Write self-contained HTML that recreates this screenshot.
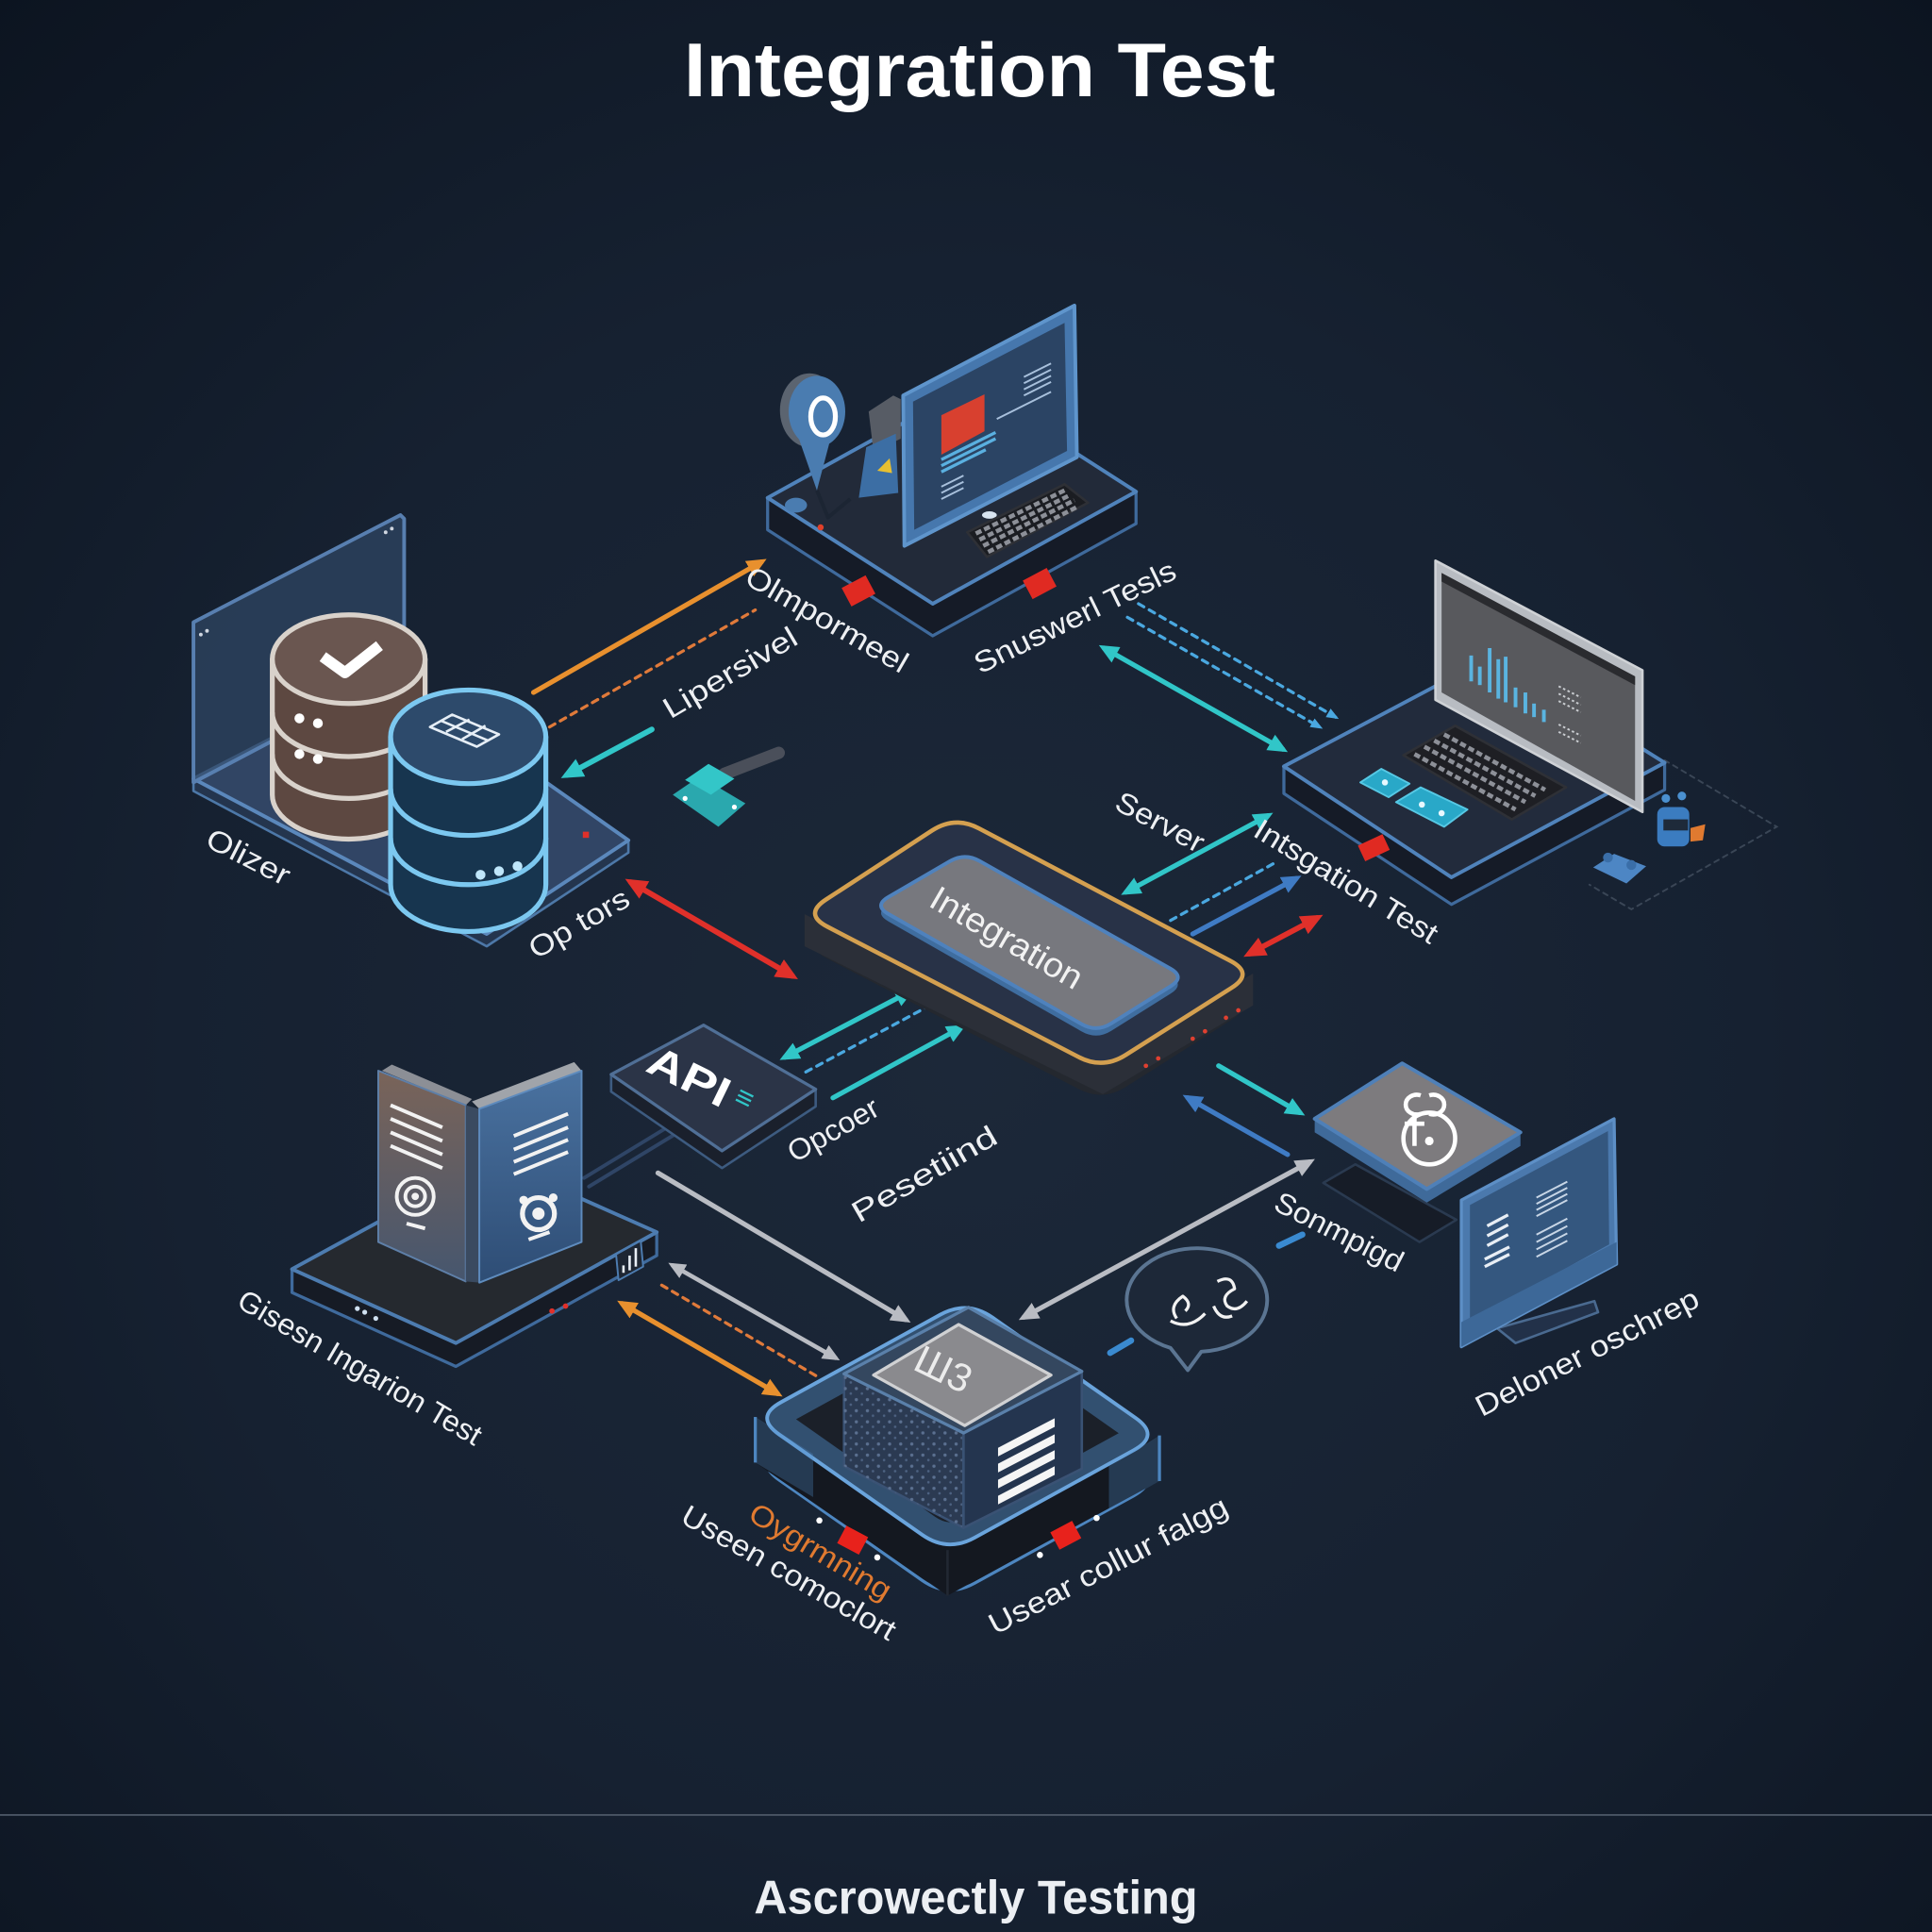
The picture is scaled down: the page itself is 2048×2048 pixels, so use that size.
<!DOCTYPE html>
<html><head><meta charset="utf-8">
<style>
html,body{margin:0;padding:0;background:#111a27;}
svg{display:block}
text{font-family:"Liberation Sans",sans-serif}
.lb{font-size:24px;fill:#eef0f3}
</style></head><body>
<svg width="2048" height="2048" viewBox="0 0 1568 1568" xmlns="http://www.w3.org/2000/svg">
<defs>
<radialGradient id="bg" cx="0.5" cy="0.55" r="0.75">
 <stop offset="0" stop-color="#1c2839"/>
 <stop offset="0.55" stop-color="#162131"/>
 <stop offset="1" stop-color="#0c1420"/>
</radialGradient>
<linearGradient id="brownBook" x1="0" y1="0" x2="0" y2="1">
 <stop offset="0" stop-color="#7a6459"/><stop offset="1" stop-color="#46566e"/>
</linearGradient>
<linearGradient id="blueBook" x1="0" y1="0" x2="0" y2="1">
 <stop offset="0" stop-color="#4a72a0"/><stop offset="1" stop-color="#2e4d75"/>
</linearGradient>
<marker id="mo" viewBox="0 0 10 10" refX="7" refY="5" markerWidth="4" markerHeight="4" orient="auto-start-reverse" markerUnits="strokeWidth"><path d="M0,0.5 L10,5 L0,9.5 z" fill="#e8902e"/></marker>
<marker id="mc" viewBox="0 0 10 10" refX="7" refY="5" markerWidth="4" markerHeight="4" orient="auto-start-reverse" markerUnits="strokeWidth"><path d="M0,0.5 L10,5 L0,9.5 z" fill="#31c6c8"/></marker>
<marker id="mr" viewBox="0 0 10 10" refX="7" refY="5" markerWidth="4" markerHeight="4" orient="auto-start-reverse" markerUnits="strokeWidth"><path d="M0,0.5 L10,5 L0,9.5 z" fill="#e0302a"/></marker>
<marker id="mb" viewBox="0 0 10 10" refX="7" refY="5" markerWidth="4" markerHeight="4" orient="auto-start-reverse" markerUnits="strokeWidth"><path d="M0,0.5 L10,5 L0,9.5 z" fill="#3f7bc4"/></marker>
<marker id="mg" viewBox="0 0 10 10" refX="7" refY="5" markerWidth="4" markerHeight="4" orient="auto-start-reverse" markerUnits="strokeWidth"><path d="M0,0.5 L10,5 L0,9.5 z" fill="#b9bcc3"/></marker>
<marker id="md" viewBox="0 0 10 10" refX="7" refY="5" markerWidth="4" markerHeight="4" orient="auto-start-reverse" markerUnits="strokeWidth"><path d="M0,1 L10,5 L0,9 z" fill="#4aa8e0"/></marker>
<pattern id="dots" width="9" height="9" patternUnits="userSpaceOnUse"><circle cx="2" cy="2" r="1.3" fill="#5b7090"/><circle cx="6.5" cy="6" r="1" fill="#4d6282"/></pattern>
<clipPath id="glassClip"><path d="M805.5,1069.3 L921.5,1150.7 Q942,1165 920.1,1177 L790.9,1248 Q769,1260 748.5,1245.7 L632.5,1164.3 Q612,1150 633.9,1138 L763.1,1067 Q785,1055 805.5,1069.3 Z"/></clipPath>
</defs>

<rect width="1568" height="1568" fill="url(#bg)"/>

<!-- Title -->
<text x="555" y="78" font-size="62" font-weight="bold" fill="#ffffff" textLength="480" lengthAdjust="spacingAndGlyphs">Integration Test</text>

<!-- ============ ARROWS ============ -->
<g fill="none" stroke-linecap="round">
 <line x1="433" y1="562" x2="618" y2="456" stroke="#e8902e" stroke-width="4" marker-end="url(#mo)"/>
 <line x1="446" y1="590" x2="613" y2="495" stroke="#e07a3a" stroke-width="2.5" stroke-dasharray="5 5"/>
 <line x1="529" y1="592" x2="460" y2="629" stroke="#31c6c8" stroke-width="4.5" marker-end="url(#mc)"/>
 <line x1="512" y1="716" x2="643" y2="792" stroke="#e0302a" stroke-width="4.5" marker-start="url(#mr)" marker-end="url(#mr)"/>
 <line x1="896" y1="526" x2="1041" y2="608" stroke="#31c6c8" stroke-width="4" marker-start="url(#mc)" marker-end="url(#mc)"/>
 <line x1="924" y1="490" x2="1084" y2="582" stroke="#4aa8e0" stroke-width="2.5" stroke-dasharray="5 5" marker-end="url(#md)"/>
 <line x1="915" y1="501" x2="1071" y2="590" stroke="#4aa8e0" stroke-width="2.5" stroke-dasharray="5 5" marker-end="url(#md)"/>
 <line x1="1029" y1="662" x2="914" y2="724" stroke="#31c6c8" stroke-width="4" marker-start="url(#mc)" marker-end="url(#mc)"/>
 <line x1="950" y1="747" x2="1037" y2="699" stroke="#4aa8e0" stroke-width="2.5" stroke-dasharray="5 5"/>
 <line x1="968" y1="758" x2="1052" y2="713" stroke="#3f7bc4" stroke-width="4" marker-end="url(#mb)"/>
 <line x1="1014" y1="774" x2="1069" y2="745" stroke="#e0302a" stroke-width="4.5" marker-start="url(#mr)" marker-end="url(#mr)"/>
 <line x1="637" y1="858" x2="738" y2="805" stroke="#31c6c8" stroke-width="4" marker-start="url(#mc)" marker-end="url(#mc)"/>
 <line x1="654" y1="870" x2="764" y2="811" stroke="#4aa8e0" stroke-width="2.5" stroke-dasharray="5 5"/>
 <line x1="676" y1="891" x2="780" y2="834" stroke="#31c6c8" stroke-width="4" marker-end="url(#mc)"/>
 <line x1="989" y1="865" x2="1055" y2="903" stroke="#31c6c8" stroke-width="4" marker-end="url(#mc)"/>
 <line x1="1045" y1="937" x2="964" y2="891" stroke="#3f7bc4" stroke-width="4" marker-end="url(#mb)"/>
 <line x1="831" y1="1069" x2="1063" y2="943" stroke="#b9bcc3" stroke-width="4" marker-start="url(#mg)" marker-end="url(#mg)"/>
 <line x1="534" y1="952" x2="735" y2="1071" stroke="#b9bcc3" stroke-width="4" marker-end="url(#mg)"/>
 <line x1="546" y1="1027" x2="678" y2="1102" stroke="#b9bcc3" stroke-width="3.5" marker-start="url(#mg)" marker-end="url(#mg)"/>
 <line x1="537" y1="1043" x2="663" y2="1117" stroke="#e07a3a" stroke-width="2.5" stroke-dasharray="5 5"/>
 <line x1="505" y1="1058" x2="631" y2="1131" stroke="#e8902e" stroke-width="4" marker-start="url(#mo)" marker-end="url(#mo)"/>
 <line x1="474" y1="956" x2="548" y2="911" stroke="#2f4566" stroke-width="3"/>
 <line x1="478" y1="963" x2="552" y2="918" stroke="#2f4566" stroke-width="3"/>
 <line x1="901" y1="1098" x2="918" y2="1088" stroke="#3a8ad0" stroke-width="5"/>
 <line x1="1038" y1="1011" x2="1057" y2="1002" stroke="#3a8ad0" stroke-width="5"/>
 <polyline points="1351,617 1442,671 1324,738 1290,718" stroke="#3a4656" stroke-width="1.5" stroke-dasharray="4 4"/>
</g>

<!-- ============ TOP STATION ============ -->
<g stroke-linejoin="round">
 <polygon points="623,404 757,490 922,399 922,425 757,516 623,430" fill="#151b27" stroke="#3f6a9c" stroke-width="2.5"/>
 <polygon points="623,404 788,313 922,399 757,490" fill="#222a39" stroke="#5083bb" stroke-width="3"/>
 <rect x="686" y="471" width="22" height="17" fill="#e02a22" transform="rotate(-28 697 480)"/>
 <rect x="833" y="465" width="22" height="17" fill="#e02a22" transform="rotate(-28 844 474)"/>
 <circle cx="666" cy="428" r="2.5" fill="#e0402a"/>
 <!-- pin -->
 <ellipse cx="657" cy="333" rx="24" ry="30" fill="#5b6470"/>
 <polygon points="648,355 673,360 663,398" fill="#4a7cb0"/>
 <ellipse cx="663" cy="334" rx="23" ry="29" fill="#4a7cb0"/>
 <ellipse cx="668" cy="338" rx="10" ry="15" fill="none" stroke="#ffffff" stroke-width="4"/>
 <path d="M663,398 L672,420 L690,405" fill="none" stroke="#1c2533" stroke-width="3"/>
 <ellipse cx="646" cy="410" rx="9" ry="6" fill="#4a7cb0"/>
 <!-- gray box and blue piece -->
 <polygon points="705,334 725,321 731,324 731,356 709,367" fill="#575c65"/>
 <polygon points="703,363 727,352 729,400 697,404" fill="#3c6ea4"/>
 <polygon points="712,382 722,372 724,384" fill="#e8c030"/>
 <!-- monitor -->
 <polygon points="733,321 872,248 874,371 734,443" fill="#4677ad" stroke="#5f95cc" stroke-width="3"/>
 <polygon points="741,326 864,262 866,366 742,430" fill="#2b4464"/>
 <polygon points="764,337 799,320 799,350 764,369" fill="#d8402f"/>
 <g stroke="#5ab0e0" stroke-width="2.5">
  <line x1="764" y1="373" x2="808" y2="351"/>
  <line x1="764" y1="378" x2="808" y2="356"/>
  <line x1="764" y1="383" x2="800" y2="365"/>
 </g>
 <g stroke="#a8c0dc" stroke-width="1.5">
  <line x1="831" y1="306" x2="853" y2="295"/><line x1="831" y1="311" x2="853" y2="300"/>
  <line x1="831" y1="316" x2="853" y2="305"/><line x1="831" y1="321" x2="853" y2="310"/>
  <line x1="809" y1="340" x2="853" y2="318"/><line x1="764" y1="395" x2="782" y2="386"/>
  <line x1="764" y1="400" x2="782" y2="391"/><line x1="764" y1="405" x2="782" y2="396"/>
 </g>
 <ellipse cx="803" cy="418" rx="6" ry="3" fill="#d8e4f0"/>
 <!-- keyboard -->
 <polygon points="785,432 864,393 883,408 801,452" fill="#1b1d22" stroke="#2e3036" stroke-width="2"/>
 <g stroke="#8d9098" stroke-width="3.5" stroke-dasharray="5 2.5">
  <line x1="792" y1="433" x2="864" y2="398"/>
  <line x1="795" y1="438" x2="868" y2="402"/>
  <line x1="798" y1="443" x2="872" y2="406"/>
  <line x1="802" y1="448" x2="875" y2="411"/>
 </g>
</g>

<!-- ============ LEFT DB STATION ============ -->
<g stroke-linejoin="round">
 <polygon points="157,632 395,758 510,682 510,692 395,768 157,642" fill="#24354e" stroke="#4d78a8" stroke-width="2"/>
 <polygon points="157,632 320,548 510,682 395,758" fill="#34496a" fill-opacity="0.9" stroke="#5b88bc" stroke-width="3"/>
 <polygon points="157,505 325,418 328,421 328,545 157,635" fill="#2f4563" fill-opacity="0.75" stroke="#587fb0" stroke-width="3"/>
 <circle cx="163" cy="515" r="1.5" fill="#cfd6e0"/><circle cx="168" cy="512" r="1.5" fill="#cfd6e0"/>
 <circle cx="313" cy="432" r="1.5" fill="#cfd6e0"/><circle cx="318" cy="429" r="1.5" fill="#cfd6e0"/>
 <rect x="473" y="675" width="5" height="5" fill="#e0302a"/>
 <!-- brown cylinder -->
 <path d="M221,535 L221,645 A62,36 0 0 0 345,645 L345,535 Z" fill="#5d4841" stroke="#d9d2cb" stroke-width="4"/>
 <path d="M221,578 A62,36 0 0 0 345,578" fill="none" stroke="#d9d2cb" stroke-width="4"/>
 <path d="M221,612 A62,36 0 0 0 345,612" fill="none" stroke="#d9d2cb" stroke-width="4"/>
 <ellipse cx="283" cy="535" rx="62" ry="36" fill="#6a5650" stroke="#d9d2cb" stroke-width="4"/>
 <path d="M262,533 L280,546 L308,524" fill="none" stroke="#ffffff" stroke-width="9"/>
 <circle cx="243" cy="583" r="4" fill="#fff"/><circle cx="258" cy="587" r="4" fill="#fff"/>
 <circle cx="243" cy="612" r="4" fill="#fff"/><circle cx="258" cy="616" r="4" fill="#fff"/>
 <!-- blue cylinder -->
 <path d="M317,598 L317,718 A63,38 0 0 0 443,718 L443,598 Z" fill="#17354f" stroke="#7cc8f0" stroke-width="4"/>
 <path d="M317,640 A63,38 0 0 0 443,640" fill="none" stroke="#7cc8f0" stroke-width="4"/>
 <path d="M317,680 A63,38 0 0 0 443,680" fill="none" stroke="#7cc8f0" stroke-width="4"/>
 <ellipse cx="380" cy="598" rx="63" ry="38" fill="#2d4a6b" stroke="#7cc8f0" stroke-width="4"/>
 <g fill="none" stroke="#e6eef6" stroke-width="2">
  <polygon points="349,590 367,580 405,596 387,606"/>
  <line x1="358" y1="585" x2="396" y2="601"/>
  <line x1="362" y1="594" x2="381" y2="584"/>
  <line x1="375" y1="600" x2="394" y2="589"/>
 </g>
 <circle cx="390" cy="710" r="4" fill="#bfe6fa"/><circle cx="405" cy="707" r="4" fill="#bfe6fa"/><circle cx="420" cy="703" r="4" fill="#bfe6fa"/>
</g>

<!-- teal connector icon -->
<g>
 <line x1="588" y1="628" x2="632" y2="611" stroke="#4a4f5a" stroke-width="10" stroke-linecap="round"/>
 <polygon points="546,645 568,630 605,652 583,671" fill="#2aa8ae"/>
 <polygon points="556,633 575,620 596,632 577,645" fill="#33c6c8"/>
 <circle cx="556" cy="648" r="2" fill="#fff"/><circle cx="596" cy="655" r="2" fill="#fff"/>
</g>

<!-- ============ RIGHT LAPTOP STATION ============ -->
<g stroke-linejoin="round">
 <polygon points="1042,622 1178,712 1351,619 1351,641 1178,734 1042,644" fill="#151b27" stroke="#3f6a9c" stroke-width="2.5"/>
 <polygon points="1042,622 1212,532 1351,619 1178,712" fill="#222b3c" stroke="#5083bb" stroke-width="3"/>
 <rect x="1104" y="681" width="22" height="14" fill="#e02a22" transform="rotate(-25 1115 688)"/>
 <!-- screen -->
 <polygon points="1165,455 1333,544 1333,659 1165,568" fill="#b8bcc2" stroke="#cfd2d6" stroke-width="2"/>
 <polygon points="1170,465 1327,549 1327,650 1170,562" fill="#58595d"/>
 <polygon points="1170,465 1327,549 1327,556 1170,472" fill="#2a2b2f"/>
 <g stroke="#5ab4e0" stroke-width="3">
  <line x1="1194" y1="532" x2="1194" y2="553"/><line x1="1201" y1="541" x2="1201" y2="556"/>
  <line x1="1209" y1="526" x2="1209" y2="562"/><line x1="1216" y1="535" x2="1216" y2="567"/>
  <line x1="1222" y1="533" x2="1222" y2="570"/><line x1="1230" y1="558" x2="1230" y2="574"/>
  <line x1="1238" y1="562" x2="1238" y2="579"/><line x1="1245" y1="571" x2="1245" y2="582"/>
  <line x1="1253" y1="576" x2="1253" y2="586"/>
 </g>
 <g stroke="#c9ccd0" stroke-width="1.5" stroke-dasharray="2 2">
  <line x1="1265" y1="557" x2="1283" y2="566"/><line x1="1265" y1="563" x2="1283" y2="572"/>
  <line x1="1265" y1="569" x2="1283" y2="578"/><line x1="1265" y1="588" x2="1283" y2="597"/>
  <line x1="1265" y1="594" x2="1283" y2="603"/>
 </g>
 <!-- keyboard -->
 <polygon points="1139,613 1181,589 1271,639 1227,665" fill="#1e1f24" stroke="#2e3036" stroke-width="2"/>
 <g stroke="#8d9098" stroke-width="3.5" stroke-dasharray="5 2.5">
  <line x1="1148" y1="612" x2="1230" y2="657"/>
  <line x1="1156" y1="606" x2="1238" y2="651"/>
  <line x1="1164" y1="601" x2="1246" y2="646"/>
  <line x1="1172" y1="596" x2="1254" y2="641"/>
 </g>
 <!-- cyan buttons -->
 <polygon points="1104,635 1121,624 1144,636 1127,647" fill="#29a8c8" stroke="#56c8e4" stroke-width="1.5"/>
 <polygon points="1133,651 1153,639 1191,657 1172,671" fill="#29a8c8" stroke="#56c8e4" stroke-width="1.5"/>
 <circle cx="1124" cy="635" r="2.5" fill="#e8f8ff"/><circle cx="1154" cy="653" r="2.5" fill="#e8f8ff"/><circle cx="1170" cy="660" r="2.5" fill="#e8f8ff"/>
 <!-- robots -->
 <rect x="1345" y="655" width="26" height="32" rx="6" fill="#3b7cc0"/>
 <rect x="1350" y="665" width="20" height="9" fill="#1e2a3a"/>
 <circle cx="1352" cy="648" r="3.5" fill="#4a90d0"/><circle cx="1365" cy="646" r="3.5" fill="#4a90d0"/>
 <polygon points="1372,672 1384,669 1382,682 1372,683" fill="#e07a30"/>
 <polygon points="1293,704 1310,693 1336,703 1320,717" fill="#4d86c4"/>
 <circle cx="1305" cy="696" r="4" fill="#3a6ea8"/><circle cx="1324" cy="702" r="4" fill="#3a6ea8"/>
</g>

<!-- ============ CENTER INTEGRATION ============ -->
<g>
 <path transform="translate(0,26)" d="M794.5,672.3 L998.5,779.8 Q1018,790 999.4,801.8 L913.6,856.2 Q895,868 875.5,857.9 L671.5,752.1 Q652,742 670.5,730 L756.5,674 Q775,662 794.5,672.3 Z" fill="#24282f"/>
 <polygon points="653,742 895,862 1017,790 1017,816 895,888 653,768" fill="#2b2f38"/>
 <path d="M794.5,672.3 L998.5,779.8 Q1018,790 999.4,801.8 L913.6,856.2 Q895,868 875.5,857.9 L671.5,752.1 Q652,742 670.5,730 L756.5,674 Q775,662 794.5,672.3 Z" fill="#283247" stroke="#d4a050" stroke-width="3.5"/>
 <g fill="#e04030">
  <circle cx="930" cy="865" r="1.8"/><circle cx="940" cy="859" r="1.8"/><circle cx="968" cy="843" r="1.8"/>
  <circle cx="978" cy="837" r="1.8"/><circle cx="995" cy="826" r="1.8"/><circle cx="1005" cy="820" r="1.8"/>
 </g>
 <path transform="translate(0,6)" d="M795.2,698.9 L949.8,786.1 Q962,793 950.1,800.4 L901.9,830.6 Q890,838 877.8,831.1 L721.2,741.9 Q709,735 721.1,728 L770.9,699 Q783,692 795.2,698.9 Z" fill="#3f6d9f"/>
 <path d="M795.2,698.9 L949.8,786.1 Q962,793 950.1,800.4 L901.9,830.6 Q890,838 877.8,831.1 L721.2,741.9 Q709,735 721.1,728 L770.9,699 Q783,692 795.2,698.9 Z" fill="#77787e" stroke="#4f82bd" stroke-width="3"/>
 <text transform="translate(757,727) rotate(30)" y="9" font-size="28" fill="#f2f2f2" textLength="138" lengthAdjust="spacingAndGlyphs">Integration</text>
</g>

<!-- ============ API BOX ============ -->
<g stroke-linejoin="round">
 <polygon points="496,872 586,934 662,884 662,898 586,948 496,886" fill="#1a202c" stroke="#3d5b80" stroke-width="2"/>
 <polygon points="496,872 571,832 662,884 586,934" fill="#2b3447" stroke="#506f96" stroke-width="2.5"/>
 <text transform="translate(528,858) rotate(26)" y="12" font-size="34" font-weight="bold" fill="#ffffff" textLength="70" lengthAdjust="spacingAndGlyphs">API</text>
 <text transform="translate(598,888) rotate(26)" y="8" font-size="24" font-weight="bold" fill="#31c6c8">≡</text>
</g>

<!-- ============ BOOKS STATION ============ -->
<g stroke-linejoin="round">
 <polygon points="237,1030 370,1090 533,1000 533,1019 370,1109 237,1049" fill="#161b25" stroke="#3f6a9c" stroke-width="2.5"/>
 <polygon points="237,1030 400,941 533,1000 370,1090" fill="#25292f" stroke="#4d7cb0" stroke-width="3"/>
 <circle cx="290" cy="1062" r="2" fill="#cfe0f0"/><circle cx="296" cy="1065" r="2" fill="#cfe0f0"/><circle cx="305" cy="1070" r="2" fill="#cfe0f0"/>
 <circle cx="448" cy="1064" r="2.2" fill="#e0302a"/><circle cx="459" cy="1060" r="2.2" fill="#e0302a"/>
 <!-- chart -->
 <polygon points="500,1018 520,1007 522,1028 502,1039" fill="#1e2633" stroke="#4d7cb0" stroke-width="1.5"/>
 <g stroke="#e8eef5" stroke-width="2"><line x1="506" y1="1033" x2="506" y2="1027"/><line x1="511" y1="1031" x2="511" y2="1019"/><line x1="516" y1="1028" x2="516" y2="1013"/></g>
 <!-- brown book -->
 <polygon points="310,869 318,864 383,892 378,897" fill="#8c8f96"/>
 <polygon points="307,869 378,897 378,1040 307,1008" fill="url(#brownBook)" stroke="#5e7fa8" stroke-width="1.5"/>
 <polygon points="378,897 389,900 389,1041 378,1040" fill="#3a4a60"/>
 <g stroke="#f2f2f2" stroke-width="3">
  <line x1="317" y1="897" x2="359" y2="915"/><line x1="317" y1="908" x2="359" y2="926"/>
  <line x1="317" y1="919" x2="359" y2="937"/><line x1="317" y1="930" x2="359" y2="948"/>
 </g>
 <circle cx="337" cy="971" r="15" fill="none" stroke="#f2f2f2" stroke-width="3"/>
 <circle cx="337" cy="971" r="8" fill="none" stroke="#f2f2f2" stroke-width="3"/>
 <circle cx="337" cy="971" r="3" fill="#f2f2f2"/>
 <line x1="330" y1="993" x2="345" y2="997" stroke="#f2f2f2" stroke-width="3"/>
 <!-- blue book -->
 <polygon points="389,900 472,869 466,862 383,894" fill="#a0a4aa"/>
 <polygon points="389,900 472,869 472,1008 389,1041" fill="url(#blueBook)" stroke="#5e8bbd" stroke-width="1.5"/>
 <g stroke="#f2f2f2" stroke-width="3">
  <line x1="417" y1="922" x2="461" y2="904"/><line x1="417" y1="933" x2="461" y2="915"/>
  <line x1="417" y1="943" x2="461" y2="925"/><line x1="417" y1="953" x2="461" y2="935"/>
 </g>
 <circle cx="437" cy="985" r="13" fill="none" stroke="#f2f2f2" stroke-width="4"/>
 <circle cx="437" cy="985" r="5" fill="#f2f2f2"/>
 <circle cx="425" cy="974" r="3.5" fill="#f2f2f2"/><circle cx="449" cy="972" r="3.5" fill="#f2f2f2"/>
 <line x1="429" y1="1006" x2="446" y2="1000" stroke="#f2f2f2" stroke-width="3"/>
</g>

<!-- ============ CUBE STATION ============ -->
<g stroke-linejoin="round">
 <path transform="translate(0,37)" d="M805.5,1069.3 L921.5,1150.7 Q942,1165 920.1,1177 L790.9,1248 Q769,1260 748.5,1245.7 L632.5,1164.3 Q612,1150 633.9,1138 L763.1,1067 Q785,1055 805.5,1069.3 Z" fill="#141820" stroke="#4d86c0" stroke-width="2.5"/>
 <polygon points="613,1150 769,1258 941,1165 941,1202 769,1295 613,1187" fill="#141820"/>
 <line x1="613" y1="1150" x2="613" y2="1187" stroke="#4d86c0" stroke-width="2.5"/>
 <line x1="941" y1="1165" x2="941" y2="1202" stroke="#4d86c0" stroke-width="2.5"/>
 <line x1="769" y1="1258" x2="769" y2="1295" stroke="#222833" stroke-width="2"/>
 <path d="M805.5,1069.3 L921.5,1150.7 Q942,1165 920.1,1177 L790.9,1248 Q769,1260 748.5,1245.7 L632.5,1164.3 Q612,1150 633.9,1138 L763.1,1067 Q785,1055 805.5,1069.3 Z" fill="#1b2029"/>
 <g clip-path="url(#glassClip)">
  <path d="M805.5,1069.3 L921.5,1150.7 Q942,1165 920.1,1177 L790.9,1248 Q769,1260 748.5,1245.7 L632.5,1164.3 Q612,1150 633.9,1138 L763.1,1067 Q785,1055 805.5,1069.3 Z" fill="none" stroke="#4f8cc8" stroke-opacity="0.45" stroke-width="36"/>
 </g>
 <path d="M805.5,1069.3 L921.5,1150.7 Q942,1165 920.1,1177 L790.9,1248 Q769,1260 748.5,1245.7 L632.5,1164.3 Q612,1150 633.9,1138 L763.1,1067 Q785,1055 805.5,1069.3 Z" fill="none" stroke="#6aa4dc" stroke-width="3"/>
 <polygon points="613,1150 660,1180 660,1215 613,1187" fill="#4f8cc8" fill-opacity="0.3"/>
 <polygon points="941,1165 900,1190 900,1225 941,1202" fill="#4f8cc8" fill-opacity="0.3"/>
 <!-- red markers -->
 <rect x="682" y="1242" width="20" height="16" fill="#e8221c" transform="rotate(28 692 1250)"/>
 <rect x="855" y="1238" width="20" height="16" fill="#e8221c" transform="rotate(-28 865 1246)"/>
 <circle cx="665" cy="1234" r="2.5" fill="#fff"/><circle cx="712" cy="1264" r="2.5" fill="#fff"/>
 <circle cx="844" cy="1262" r="2.5" fill="#fff"/><circle cx="890" cy="1232" r="2.5" fill="#fff"/>
 <!-- cube -->
 <polygon points="685,1115 782,1163 782,1240 685,1190" fill="#2b3a52" stroke="#3a5274" stroke-width="2"/>
 <polygon points="685,1115 782,1163 782,1240 685,1190" fill="url(#dots)"/>
 <polygon points="782,1163 878,1113 878,1192 782,1240" fill="#24354f" stroke="#3a5274" stroke-width="2"/>
 <polygon points="685,1115 786,1061 878,1113 782,1163" fill="#34475f" stroke="#5a80aa" stroke-width="2.5"/>
 <polygon points="709,1116 778,1075 853,1116 783,1157" fill="#8a8a8e" stroke="#d0d1d3" stroke-width="2.5"/>
 <text transform="translate(745,1100) rotate(26)" y="12" font-size="32" fill="#ececec">Ш3</text>
 <g fill="#f5f5f5">
  <polygon points="810,1175 856,1151 856,1158 810,1182"/>
  <polygon points="810,1188 856,1164 856,1171 810,1195"/>
  <polygon points="810,1201 856,1177 856,1184 810,1208"/>
  <polygon points="810,1214 856,1190 856,1197 810,1221"/>
 </g>
</g>

<!-- ============ ICON BOX + MONITOR ============ -->
<g stroke-linejoin="round">
 <polygon points="1074,960 1100,945 1182,990 1152,1008" fill="#161c27" stroke="#2a3a50" stroke-width="2"/>
 <polygon points="1067,908 1158,965 1234,919 1234,930 1158,976 1067,919" fill="#3f6a9a"/>
 <polygon points="1067,908 1138,863 1234,919 1158,965" fill="#7d7b7e" stroke="#4f80b8" stroke-width="3"/>
 <g fill="none" stroke="#ffffff" stroke-width="3.5">
  <circle cx="1160" cy="924" r="21"/>
  <path d="M1153,889 A9,8 0 1 0 1153,904"/>
  <path d="M1160,889 A9,8 0 1 1 1160,904"/>
  <path d="M1148,903 L1148,930 M1140,912 L1156,912"/>
 </g>
 <circle cx="1160" cy="926" r="3.5" fill="#fff"/>
 <!-- monitor -->
 <polygon points="1215,1078 1294,1056 1297,1065 1230,1090" fill="#223149" stroke="#4a6a90" stroke-width="2"/>
 <polygon points="1186,974 1310,908 1312,1026 1186,1093" fill="#4b79ad" stroke="#5d8fc6" stroke-width="2.5"/>
 <polygon points="1193,978 1305,918 1306,1010 1193,1072" fill="#34577f"/>
 <g stroke="#e8eef5" stroke-width="2.5">
  <line x1="1207" y1="995" x2="1224" y2="986"/><line x1="1207" y1="1003" x2="1224" y2="994"/><line x1="1207" y1="1011" x2="1224" y2="1002"/>
  <line x1="1205" y1="1022" x2="1225" y2="1012"/><line x1="1205" y1="1028" x2="1225" y2="1018"/>
 </g>
 <g stroke="#c8d6e6" stroke-width="1.5">
  <line x1="1247" y1="972" x2="1272" y2="959"/><line x1="1247" y1="977" x2="1272" y2="964"/><line x1="1247" y1="982" x2="1272" y2="969"/>
  <line x1="1247" y1="987" x2="1272" y2="974"/><line x1="1247" y1="1002" x2="1272" y2="989"/><line x1="1247" y1="1008" x2="1272" y2="995"/>
  <line x1="1247" y1="1014" x2="1272" y2="1001"/><line x1="1247" y1="1020" x2="1272" y2="1007"/>
 </g>
 <polygon points="1186,1073 1312,1008 1312,1026 1186,1093" fill="#3d6898"/>
 <!-- speech bubble -->
 <path d="M950,1094 A57,42 0 1 1 975,1097 L964,1112 Z" fill="#1d2838" stroke="#5b7592" stroke-width="3"/>
 <g fill="none" stroke="#f2f2f2" stroke-width="2.5">
  <path d="M955,1070 Q948,1060 960,1052 Q968,1058 962,1064"/>
  <path d="M950,1072 Q965,1080 978,1066"/>
  <path d="M988,1040 Q1000,1034 1002,1046 Q990,1052 996,1060 Q1004,1066 1012,1056"/>
  <path d="M985,1060 Q990,1072 1000,1068"/>
 </g>
</g>

<!-- ============ LABELS ============ -->
<g class="lb">
 <text class="lb" transform="translate(607,466) rotate(30)" y="8" textLength="148" lengthAdjust="spacingAndGlyphs">Olmpormeel</text>
 <text class="lb" transform="translate(540,577) rotate(-30.5)" y="8" textLength="122" lengthAdjust="spacingAndGlyphs">Lipersivel</text>
 <text class="lb" transform="translate(792,540) rotate(-26)" y="8" textLength="179" lengthAdjust="spacingAndGlyphs">Snuswerl Tesls</text>
 <text class="lb" transform="translate(169,679) rotate(27)" y="8" textLength="73" lengthAdjust="spacingAndGlyphs">Olizer</text>
 <text class="lb" transform="translate(431,772) rotate(-30)" y="8" textLength="90" lengthAdjust="spacingAndGlyphs">Op tors</text>
 <text class="lb" transform="translate(907,649) rotate(28)" y="8" textLength="78" lengthAdjust="spacingAndGlyphs">Server</text>
 <text class="lb" transform="translate(1020,671) rotate(31.5)" y="8" textLength="170" lengthAdjust="spacingAndGlyphs">Intsgation Test</text>
 <text class="lb" transform="translate(641,937) rotate(-29.5)" y="8" textLength="81" lengthAdjust="spacingAndGlyphs">Opcoer</text>
 <text class="lb" transform="translate(693,986) rotate(-30)" y="8" textLength="132" lengthAdjust="spacingAndGlyphs">Pesetiind</text>
 <text class="lb" transform="translate(1036,974) rotate(27)" y="8" textLength="114" lengthAdjust="spacingAndGlyphs">Sonmpigd</text>
 <text class="lb" transform="translate(1199,1143) rotate(-27)" y="8" textLength="200" lengthAdjust="spacingAndGlyphs">Deloner oschrep</text>
 <text class="lb" transform="translate(195,1053) rotate(30.4)" y="8" textLength="225" lengthAdjust="spacingAndGlyphs">Gisesn Ingarion Test</text>
 <text transform="translate(610,1226) rotate(30.9)" y="8" font-size="24" fill="#e07a30" textLength="130" lengthAdjust="spacingAndGlyphs">Oygrmning</text>
 <text class="lb" transform="translate(555,1228) rotate(29.7)" y="8" textLength="196" lengthAdjust="spacingAndGlyphs">Useen comoclort</text>
 <text class="lb" transform="translate(804,1320) rotate(-27.4)" y="8" textLength="215" lengthAdjust="spacingAndGlyphs">Usear collur falgg</text>
</g>

<!-- bottom -->
<line x1="0" y1="1473" x2="1568" y2="1473" stroke="#4a5564" stroke-width="1.5"/>
<text x="612" y="1553" font-size="38" font-weight="bold" fill="#eceff3" textLength="360" lengthAdjust="spacingAndGlyphs">Ascrowectly Testing</text>
</svg>
</body></html>
